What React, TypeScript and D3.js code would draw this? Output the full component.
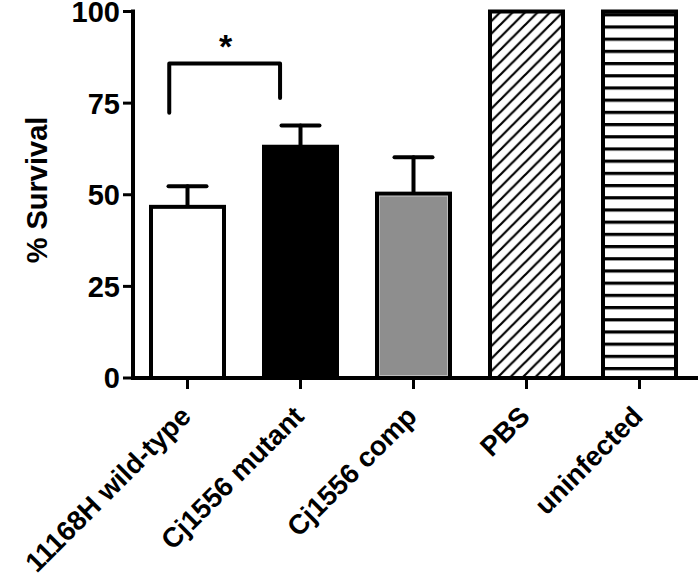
import React from "react";
import * as d3 from "d3";

const categories = ["11168H wild-type", "Cj1556 mutant", "Cj1556 comp", "PBS", "uninfected"];
const survival = [46.7, 63.1, 50.3, 100, 100];
const sem = [5.6, 5.8, 9.9, 0, 0];
const fills = ["white", "black", "#8e8e8e", "url(#diag)", "url(#horiz)"];
const yTicks = [0, 25, 50, 75, 100];
const yLabel = "% Survival";
const sigPair = ["11168H wild-type", "Cj1556 mutant"];
const sigLevels = [85.8, 72.4, 76.4]; // bracket top, left leg end, right leg end
const sigMark = "*";

const W = 700;
const H = 580;
const FONT = "'Liberation Sans', Arial, Helvetica, sans-serif";

export default function App() {
  const x = d3
    .scaleBand<string>()
    .domain(categories)
    .range([131, 696])
    .paddingInner(0.354)
    .paddingOuter(0.177);
  const y = d3.scaleLinear().domain([0, 100]).range([378, 11.5]);
  const bw = x.bandwidth();

  const bx0 = (x(sigPair[0]) as number) + bw * 0.25;
  const bx1 = (x(sigPair[1]) as number) + bw * 0.22;

  return (
    <svg width={W} height={H} style={{ position: "absolute", left: 0, top: 0, background: "white" }}>
      <defs>
        <pattern id="diag" patternUnits="userSpaceOnUse" width={12.5} height={12.5}>
          <rect width={12.5} height={12.5} fill="white" />
          <path d="M-3,3 L3,-3 M0,12.5 L12.5,0 M9.5,15.5 L15.5,9.5" stroke="black" strokeWidth={2.2} />
        </pattern>
        <pattern id="horiz" patternUnits="userSpaceOnUse" width={12} height={12.2} y={1}>
          <rect width={12} height={12.2} fill="white" />
          <rect width={12} height={3.2} fill="black" />
        </pattern>
      </defs>
      <rect width={W} height={H} fill="white" />

      {/* bars */}
      {categories.map((c, i) => (
        <g key={c}>
          <rect
            x={x(c)}
            y={y(survival[i])}
            width={bw}
            height={y(0) - y(survival[i])}
            fill={fills[i]}
            stroke="black"
            strokeWidth={4}
          />
          {i === 2 && (
            <rect
              x={(x(c) as number) + 2.5}
              y={y(survival[i]) + 2.5}
              width={bw - 5}
              height={y(0) - y(survival[i]) - 5}
              fill="none"
              stroke="#bdbdbd"
              strokeWidth={1}
            />
          )}
          {sem[i] > 0 && (
            <g stroke="black" strokeWidth={4} strokeLinecap="round">
              <line
                x1={(x(c) as number) + bw / 2}
                x2={(x(c) as number) + bw / 2}
                y1={y(survival[i]) - 2}
                y2={y(survival[i] + sem[i])}
              />
              <line
                x1={(x(c) as number) + bw / 2 - 19}
                x2={(x(c) as number) + bw / 2 + 19}
                y1={y(survival[i] + sem[i])}
                y2={y(survival[i] + sem[i])}
              />
            </g>
          )}
        </g>
      ))}

      {/* significance bracket */}
      <path
        d={`M${bx0},${y(sigLevels[1])} L${bx0},${y(sigLevels[0])} L${bx1},${y(sigLevels[0])} L${bx1},${y(sigLevels[2])}`}
        fill="none"
        stroke="black"
        strokeWidth={4}
        strokeLinecap="round"
        strokeLinejoin="round"
      />
      <text
        x={(bx0 + bx1) / 2 + 1}
        y={y(sigLevels[0]) - 6}
        textAnchor="middle"
        fontFamily={FONT}
        fontWeight="bold"
        fontSize={34}
      >
        {sigMark}
      </text>

      {/* y axis */}
      <line x1={133} x2={133} y1={y(0) + 2} y2={y(100) - 2} stroke="black" strokeWidth={4} />
      {yTicks.map((t) => (
        <g key={t}>
          <line x1={123} x2={133} y1={y(t)} y2={y(t)} stroke="black" strokeWidth={3} />
          <text
            x={120}
            y={y(t)}
            dy="0.36em"
            textAnchor="end"
            fontFamily={FONT}
            fontWeight="bold"
            fontSize={29}
          >
            {t}
          </text>
        </g>
      ))}
      <text
        transform={`translate(47,190) rotate(-90)`}
        textAnchor="middle"
        fontFamily={FONT}
        fontWeight="bold"
        fontSize={29}
      >
        {yLabel}
      </text>

      {/* x axis */}
      <line x1={131} x2={698} y1={y(0)} y2={y(0)} stroke="black" strokeWidth={4} />
      {categories.map((c) => {
        const cx = (x(c) as number) + bw / 2;
        return (
          <g key={c}>
            <line x1={cx} x2={cx} y1={y(0)} y2={y(0) + 11} stroke="black" strokeWidth={3} />
            <text
              transform={`translate(${cx + 5},${y(0) + 40}) rotate(-45)`}
              textAnchor="end"
              fontFamily={FONT}
              fontWeight="bold"
              fontSize={27.5}
            >
              {c}
            </text>
          </g>
        );
      })}
    </svg>
  );
}
